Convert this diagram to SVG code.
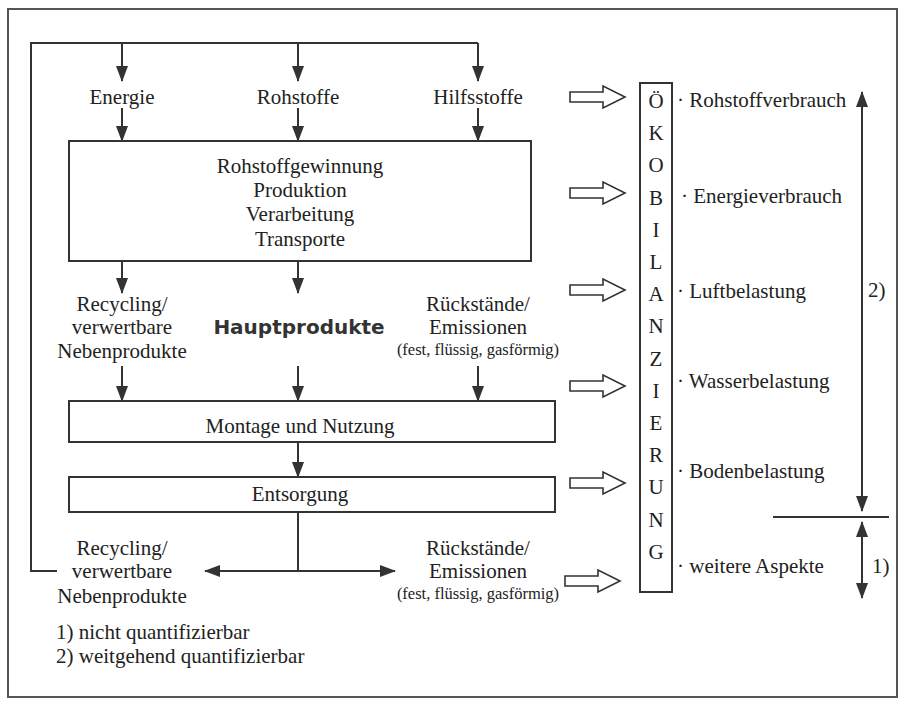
<svg xmlns="http://www.w3.org/2000/svg" width="905" height="706" viewBox="0 0 905 706">
<style>
.t{font-family:"Liberation Serif","DejaVu Serif","Times New Roman",serif;font-size:21px;fill:#222;text-anchor:middle}
.s{font-family:"Liberation Serif","DejaVu Serif","Times New Roman",serif;font-size:16.5px;fill:#222;text-anchor:middle}
.l{font-family:"Liberation Serif","DejaVu Serif","Times New Roman",serif;font-size:21px;fill:#222}
.b{font-family:"DejaVu Sans","Liberation Sans",sans-serif;font-size:20px;font-weight:bold;fill:#333;text-anchor:middle}
.box{fill:#fff;stroke:#333;stroke-width:2}
.ln{fill:none;stroke:#333;stroke-width:2}
.ar{fill:none;stroke:#333;stroke-width:2;marker-end:url(#ah)}
.da{fill:none;stroke:#333;stroke-width:2;marker-start:url(#ahs);marker-end:url(#ah)}
.ho{fill:#fff;stroke:#333;stroke-width:1.6}
</style>
<defs>
<marker id="ah" markerUnits="userSpaceOnUse" markerWidth="16" markerHeight="12" refX="15" refY="6" orient="auto">
<path d="M0,0 L16,6 L0,12 z" fill="#333"/>
</marker>
<marker id="ahs" markerUnits="userSpaceOnUse" markerWidth="16" markerHeight="12" refX="1" refY="6" orient="auto">
<path d="M16,0 L0,6 L16,12 z" fill="#333"/>
</marker>
<path id="hollow" d="M0,-5 H33 V-11 L55,0 L33,11 V5 H0 Z"/>
</defs>
<rect x="0" y="0" width="905" height="706" fill="#fff"/>
<rect x="8" y="9" width="889" height="688" fill="none" stroke="#555" stroke-width="2"/>

<g id="connectors">
<path class="ln" d="M57,571 H31 V43 H478"/>
<path class="ar" d="M122,43 V81"/>
<path class="ar" d="M298,43 V81"/>
<path class="ar" d="M478,43 V81"/>
<path class="ar" d="M122,108 V141"/>
<path class="ar" d="M298,108 V141"/>
<path class="ar" d="M478,108 V141"/>
<path class="ar" d="M122,261 V293"/>
<path class="ar" d="M298,261 V293"/>
<path class="ar" d="M122,366 V401"/>
<path class="ar" d="M298,366 V401"/>
<path class="ar" d="M478,366 V401"/>
<path class="ar" d="M298,442 V477"/>
<path class="ln" d="M298,512 V571"/>
<path class="da" d="M205,571 H395"/>
<use href="#hollow" class="ho" x="570" y="97"/>
<use href="#hollow" class="ho" x="570" y="193"/>
<use href="#hollow" class="ho" x="570" y="290"/>
<use href="#hollow" class="ho" x="570" y="386"/>
<use href="#hollow" class="ho" x="570" y="483"/>
<use href="#hollow" class="ho" x="565" y="581"/>
<path class="da" d="M862,92 V511"/>
<path class="ln" d="M773,517 H889"/>
<path class="da" d="M862,522 V598"/>
</g>

<g id="energie"><text class="t" x="122" y="104">Energie</text></g>
<g id="rohstoffe"><text class="t" x="298" y="104">Rohstoffe</text></g>
<g id="hilfsstoffe"><text class="t" x="478" y="104">Hilfsstoffe</text></g>

<g id="produktion">
<rect class="box" x="69" y="141" width="462" height="120"/>
<text class="t" x="300" y="173">Rohstoffgewinnung</text>
<text class="t" x="300" y="197">Produktion</text>
<text class="t" x="300" y="221">Verarbeitung</text>
<text class="t" x="300" y="246">Transporte</text>
</g>

<g id="recycling1">
<text class="t" x="122" y="311">Recycling/</text>
<text class="t" x="122" y="334">verwertbare</text>
<text class="t" x="122" y="358">Nebenprodukte</text>
</g>
<g id="hauptprodukte"><text class="b" x="299" y="334">Hauptprodukte</text></g>
<g id="rueckstaende1">
<text class="t" x="478" y="311">Rückstände/</text>
<text class="t" x="478" y="334">Emissionen</text>
<text class="s" x="478" y="355">(fest, flüssig, gasförmig)</text>
</g>

<g id="montage">
<rect class="box" x="69" y="401" width="486" height="41"/>
<text class="t" x="300" y="433">Montage und Nutzung</text>
</g>
<g id="entsorgung">
<rect class="box" x="69" y="477" width="486" height="35"/>
<text class="t" x="300" y="501">Entsorgung</text>
</g>

<g id="recycling2">
<text class="t" x="122" y="555">Recycling/</text>
<text class="t" x="122" y="578">verwertbare</text>
<text class="t" x="122" y="603">Nebenprodukte</text>
</g>
<g id="rueckstaende2">
<text class="t" x="478" y="555">Rückstände/</text>
<text class="t" x="478" y="578">Emissionen</text>
<text class="s" x="478" y="599">(fest, flüssig, gasförmig)</text>
</g>

<g id="oekobilanzierung">
<rect class="box" x="640" y="83" width="32" height="509"/>
<text class="t" x="656" y="108">Ö</text>
<text class="t" x="656" y="140">K</text>
<text class="t" x="656" y="172">O</text>
<text class="t" x="656" y="205">B</text>
<text class="t" x="656" y="237">I</text>
<text class="t" x="656" y="269">L</text>
<text class="t" x="656" y="301">A</text>
<text class="t" x="656" y="333">N</text>
<text class="t" x="656" y="366">Z</text>
<text class="t" x="656" y="398">I</text>
<text class="t" x="656" y="430">E</text>
<text class="t" x="656" y="462">R</text>
<text class="t" x="656" y="494">U</text>
<text class="t" x="656" y="527">N</text>
<text class="t" x="656" y="559">G</text>
</g>

<g id="aspekte">
<text class="l" x="677" y="107">· Rohstoffverbrauch</text>
<text class="l" x="681" y="203">·  Energieverbrauch</text>
<text class="l" x="677" y="298">· Luftbelastung</text>
<text class="l" x="677" y="388">· Wasserbelastung</text>
<text class="l" x="677" y="478">· Bodenbelastung</text>
<text class="l" x="677" y="573">· weitere Aspekte</text>
<text class="l" x="868" y="297">2)</text>
<text class="l" x="872" y="573">1)</text>
</g>

<g id="legende">
<text class="l" x="56" y="639">1) nicht quantifizierbar</text>
<text class="l" x="56" y="663">2) weitgehend quantifizierbar</text>
</g>
</svg>
